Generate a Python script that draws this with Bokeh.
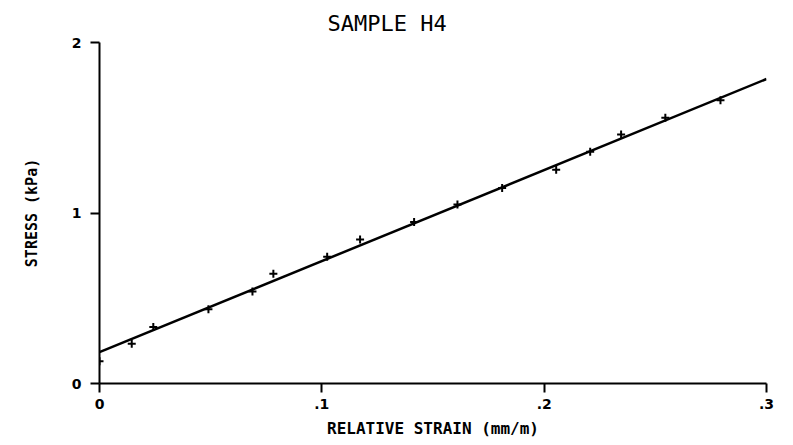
from bokeh.plotting import figure
from bokeh.models import FixedTicker, Range1d, Title
from bokeh.embed import file_html
from bokeh.resources import INLINE

# data
strain = [0.0, 0.0145, 0.0242, 0.049, 0.0688, 0.0782, 0.1024, 0.1172, 0.1415,
          0.161, 0.1811, 0.2054, 0.2207, 0.2346, 0.2545, 0.2793]
stress = [0.13, 0.233, 0.331, 0.436, 0.540, 0.644, 0.744, 0.844, 0.947,
          1.050, 1.147, 1.254, 1.359, 1.460, 1.559, 1.662]
fit_strain = [0.0, 0.3]
fit_stress = [0.184, 1.786]
x_ticks = [0, 0.1, 0.2, 0.3]
x_tick_labels = ["0", ".1", ".2", ".3"]
y_ticks = [0, 1, 2]
y_tick_labels = ["0", "1", "2"]

p = figure(width=793, height=445, output_backend="svg", toolbar_location=None,
           x_range=Range1d(0, 0.3), y_range=Range1d(0, 2),
           min_border_left=99, min_border_right=27, min_border_top=42,
           min_border_bottom=62)
p.outline_line_color = None
p.xgrid.visible = False
p.ygrid.visible = False
p.background_fill_color = "white"
p.border_fill_color = "white"

title = Title(text="SAMPLE H4", align="left", offset=228,
              text_font="DejaVu Sans Mono", text_font_size="22px",
              text_font_style="normal", text_color="black", standoff=13)
p.add_layout(title, "above")

p.line(fit_strain, fit_stress, line_color="black", line_width=2.5)
p.scatter(strain, stress, marker="cross", size=8, line_color="black", line_width=2)

for ax in (p.xaxis[0], p.yaxis[0]):
    ax.axis_line_width = 2
    ax.axis_line_color = "black"
    ax.major_tick_line_width = 2
    ax.major_tick_line_color = "black"
    ax.major_tick_in = 0
    ax.major_tick_out = 9
    ax.minor_tick_line_color = None
    ax.major_label_text_font = "DejaVu Sans"
    ax.major_label_text_font_style = "bold"
    ax.major_label_text_font_size = "14px"
    ax.major_label_text_color = "black"
    ax.axis_label_text_font = "DejaVu Sans Mono"
    ax.axis_label_text_font_style = "bold"
    ax.axis_label_text_color = "black"

p.xaxis[0].axis_label_text_font_size = "16px"
p.yaxis[0].axis_label_text_font_size = "15px"
p.xaxis[0].ticker = FixedTicker(ticks=x_ticks)
p.xaxis[0].major_label_overrides = {t: s for t, s in zip(x_ticks, x_tick_labels)}
p.yaxis[0].ticker = FixedTicker(ticks=y_ticks)
p.yaxis[0].major_label_overrides = {t: s for t, s in zip(y_ticks, y_tick_labels)}
p.xaxis[0].axis_label = "RELATIVE STRAIN (mm/m)"
p.yaxis[0].axis_label = "STRESS (kPa)"
p.xaxis[0].major_label_standoff = 6
p.yaxis[0].major_label_standoff = 9
p.xaxis[0].axis_label_standoff = 7
p.yaxis[0].axis_label_standoff = 28

open("out.html", "w").write(file_html(p, INLINE))
